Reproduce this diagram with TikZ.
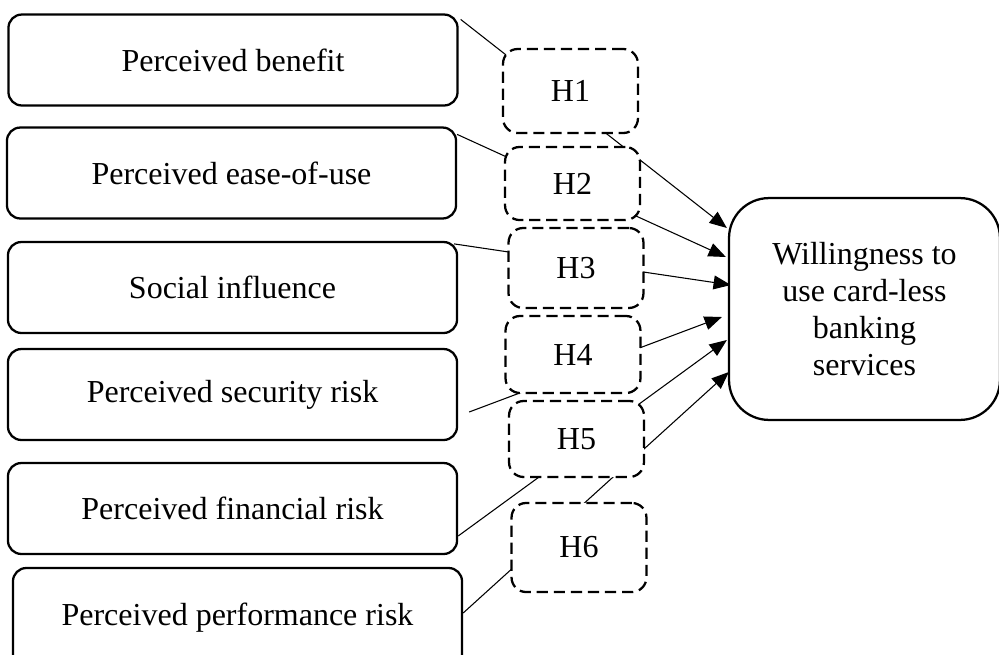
\documentclass[tikz,border=0pt]{standalone}
\usepackage{fontspec}
\setmainfont{Liberation Serif}
\usetikzlibrary{arrows.meta,backgrounds,calc}
\tikzset{
	lbox/.style={draw,rounded corners=5pt,line width=0.85pt,fill=white,minimum width=168.4pt,minimum height=34.1pt,inner sep=0pt},
	hbox/.style={draw,rounded corners=5.5pt,line width=0.85pt,dash pattern=on 4.2pt off 2.2pt,fill=white,minimum width=50.6pt,inner sep=0pt},
	obox/.style={draw,rounded corners=15pt,line width=0.85pt,fill=white,minimum width=101.6pt,minimum height=83.2pt,align=center,inner sep=0pt}
}
\begin{document}
\begin{tikzpicture}[>={Triangle[length=6.5pt,width=5.2pt]},x=0.375pt,y=-0.375pt,font=\fontsize{12}{13.9}\selectfont]
		\useasboundingbox (0,0) rectangle (999,655);
		\node[lbox] (ben) at (233,60) {Perceived benefit};
		\node[lbox] (ease) at (231.5,173) {Perceived ease-of-use};
		\node[lbox] (soc) at (232.5,287.5) {Social influence};
		\node[lbox] (sec) at (232.5,394.5) {Perceived security risk};
		\node[lbox] (fin) at (232.5,508.5) {Perceived financial risk};
		\node[lbox,minimum height=37.5pt] (perf) at (237.5,618) {Perceived performance risk};
		\node[hbox,minimum height=31.5pt] (h1) at (570.5,91) {H1};
		\node[hbox,minimum height=27.4pt] (h2) at (572.5,183.5) {H2};
		\node[hbox,minimum height=30pt] (h3) at (576,268) {H3};
		\node[hbox,minimum height=28.9pt] (h4) at (573,354.5) {H4};
		\node[hbox,minimum height=28.5pt] (h5) at (576.5,439) {H5};
		\node[hbox,minimum height=33.4pt] (h6) at (579,547.5) {H6};
		\node[obox] (out) at (864.5,309) {Willingness to\\use card-less\\banking\\services};
		\begin{scope}[on background layer,line width=1.1pt]
			\draw[->] ($(ben.north east)+(2,6)$) -- ($(out.west)+(-1,-81)$);
			\draw[->] ($(ease.north east)+(0,8)$) -- ($(out.west)+(-2,-52)$);
			\draw[->] ($(soc.north east)+(-4,3)$) -- ($(out.west)+(3,-24)$);
			\draw[->] ($(sec.east)+(11,17.5)$) -- ($(out.west)+(-6,8)$);
			\draw[->] ($(fin.east)+(0,27.5)$) -- ($(out.west)+(-1,31)$);
			\draw[->] ($(perf.east)+(0,-5)$) -- ($(out.west)+(1,63)$);
		\end{scope}
\end{tikzpicture}
\end{document}
